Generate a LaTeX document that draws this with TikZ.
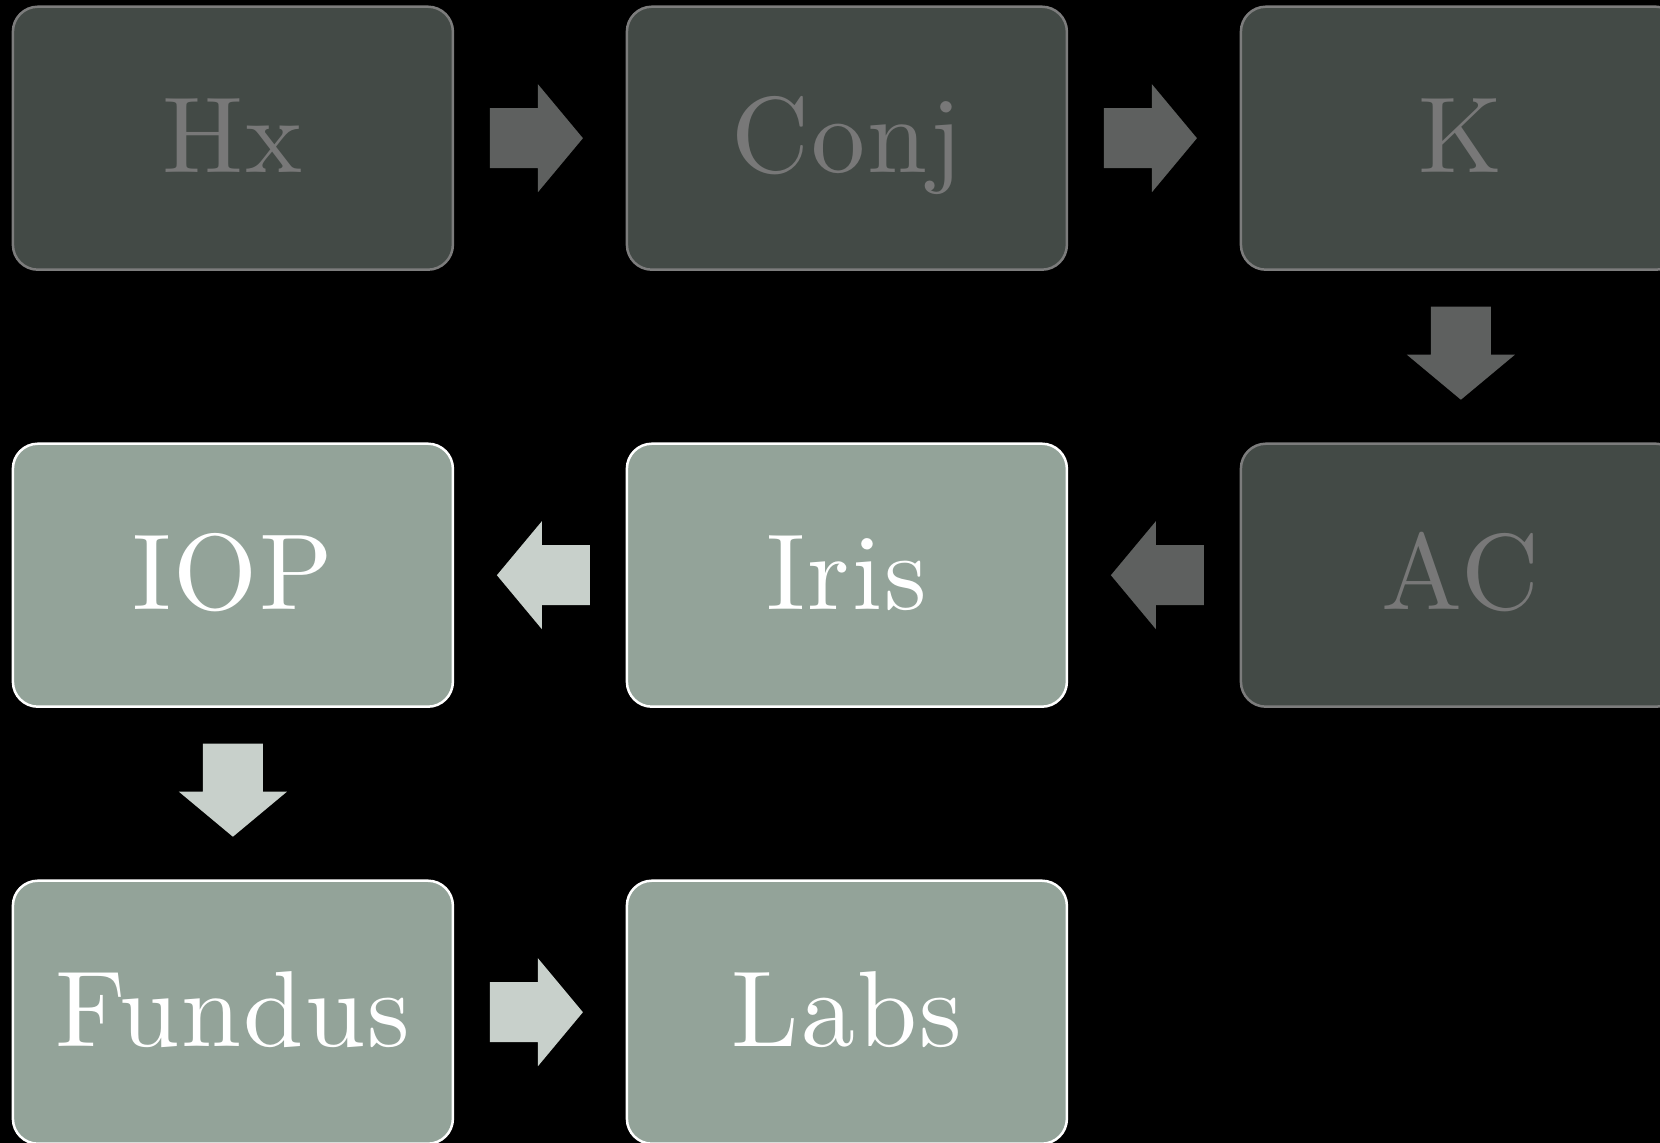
\documentclass[tikz,border=0pt]{standalone}
\usepackage{fontspec}
\usetikzlibrary{positioning,calc}
\newfontfamily\boxfont{lmroman10-regular.otf}[LetterSpace=2]
\definecolor{dkFill}{HTML}{434A46}
\definecolor{dkLine}{HTML}{7C7C7C}
\definecolor{dkText}{HTML}{787878}
\definecolor{dkArrow}{HTML}{5E605F}
\definecolor{ltFill}{HTML}{93A399}
\definecolor{ltArrow}{HTML}{C8D0CB}

\begin{document}
\begin{tikzpicture}[x=1pt,y=1pt,node distance=174pt,
  box/.style={rounded corners=25pt,line width=2.5pt,minimum width=440pt,minimum height=263pt,outer sep=0pt,inner sep=0pt,text height=74pt,text depth=5pt,font=\boxfont\fontsize{108}{120}\selectfont},
  dkbox/.style={box,draw=dkLine,fill=dkFill,text=dkText},
  ltbox/.style={box,draw=white,fill=ltFill,text=white},
  blk/.pic={\fill (-46.5,-30) -- (1.5,-30) -- (1.5,-54) -- (46.5,0) -- (1.5,54) -- (1.5,30) -- (-46.5,30) -- cycle;}]
\fill[black] (0,0) rectangle (1660,-1143);
\useasboundingbox (0,0) rectangle (1660,-1143);
% top row
\node[dkbox] (hx) at (232.9,-138.2) {Hx};
\node[dkbox,right=of hx] (conj) {Conj};
\node[dkbox,right=of conj] (k) {K};
% middle row
\node[dkbox,below=of k] (ac) {AC};
\node[ltbox,left=of ac] (iris) {Iris};
\node[ltbox,left=of iris] (iop) {IOP};
% bottom row
\node[ltbox,below=of iop] (fundus) {Fundus};
\node[ltbox,right=of fundus] (labs) {Labs};
% block arrows
\pic[fill=dkArrow] at ($(hx.east)!.48!(conj.west)$) {blk};
\pic[fill=dkArrow] at ($(conj.east)!.48!(k.west)$) {blk};
\pic[fill=dkArrow,rotate=-90] at ($(k.south)!.48!(ac.north)$) {blk};
\pic[fill=dkArrow,rotate=180] at ($(ac.west)!.48!(iris.east)$) {blk};
\pic[fill=ltArrow,rotate=180] at ($(iris.west)!.48!(iop.east)$) {blk};
\pic[fill=ltArrow,rotate=-90] at ($(iop.south)!.48!(fundus.north)$) {blk};
\pic[fill=ltArrow] at ($(fundus.east)!.48!(labs.west)$) {blk};
\end{tikzpicture}
\end{document}
